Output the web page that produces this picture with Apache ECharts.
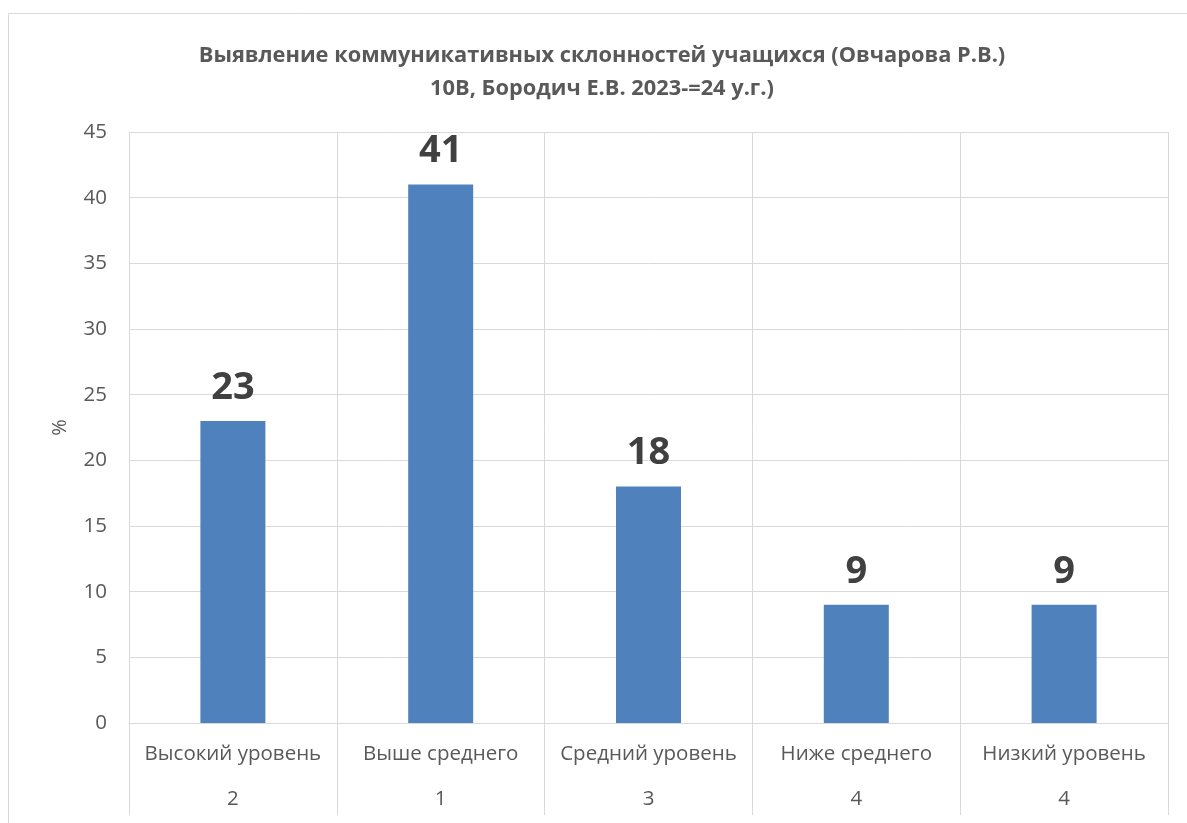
<!DOCTYPE html>
<html><head><meta charset="utf-8">
<script src="https://cdn.jsdelivr.net/npm/echarts@6/dist/echarts.min.js"></script>
<style>html,body{margin:0;padding:0;background:#fff}#c{width:1187px;height:823px}</style>
</head><body><div id="c"></div>
<script>
const categories = ['Высокий уровень','Выше среднего','Средний уровень','Ниже среднего','Низкий уровень'];
const ranks = ['2','1','3','4','4'];
const values = [23, 41, 18, 9, 9];
const yTicks = {min: 0, max: 45, interval: 5};
const titleText = 'Выявление коммуникативных склонностей учащихся (Овчарова Р.В.)\n10В, Бородич Е.В. 2023-=24 у.г.)';
const yName = '%';

const FONT = '"Open Sans", "Noto Sans", sans-serif';
const chart = echarts.init(document.getElementById('c'));
chart.setOption({
  animation: false,
  graphic: [{type:'rect', shape:{x:8.5,y:13.5,width:1200,height:900}, style:{fill:'none', stroke:'#d9d9d9', lineWidth:1}, silent:true}],
  title: {text: titleText, left: 597, top: 34, textAlign:'center',
    textStyle:{fontFamily:FONT, fontSize:21.8, fontWeight:'bold', color:'#595959', lineHeight:33}},
  grid: {left:129, right:19, top:132, bottom:100, containLabel:false},
  xAxis: [{
    type:'category', data: categories, position:'bottom',
    axisLine:{show:true, lineStyle:{color:'#d9d9d9', width:1}},
    axisTick:{show:true, interval:0, length:92, lineStyle:{color:'#d9d9d9'}},
    splitLine:{show:true, interval:0, lineStyle:{color:'#d9d9d9'}},
    axisLabel:{interval:0, margin:21, fontFamily:FONT, fontSize:20.5, color:'#595959'}
  },{
    type:'category', data: ranks, position:'bottom', offset:45,
    axisLine:{show:false}, axisTick:{show:false}, splitLine:{show:false},
    axisLabel:{interval:0, margin:21, fontFamily:FONT, fontSize:20.5, color:'#595959'}
  }],
  yAxis: {
    type:'value', min:yTicks.min, max:yTicks.max, interval:yTicks.interval,
    name: yName, nameLocation:'middle', nameGap:59, nameRotate:90,
    nameTextStyle:{fontFamily:FONT, fontSize:20, color:'#595959'},
    axisLine:{show:false}, axisTick:{show:false},
    splitLine:{show:true, lineStyle:{color:'#d9d9d9'}},
    axisLabel:{margin:22, fontFamily:FONT, fontSize:20.5, color:'#595959'}
  },
  series: [{
    type:'bar', data: values, xAxisIndex:0, barWidth:65,
    itemStyle:{color:'#4f81bd'},
    label:{show:true, position:'top', distance:14, fontFamily:FONT, fontSize:38, fontWeight:'bold', color:'#404040'}
  }]
});
</script></body></html>
